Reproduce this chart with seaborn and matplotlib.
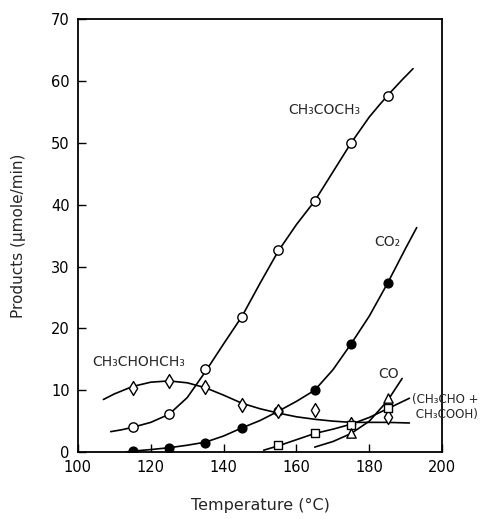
import matplotlib
matplotlib.use("Agg")
import matplotlib.pyplot as plt
import seaborn as sns
import pandas as pd

# measured points
temp_pts = [115, 125, 135, 145, 155, 165, 175, 185]
acetone_pts = [4.0, 6.1, 13.4, 21.9, 32.7, 40.6, 50.0, 57.6]
co2_pts = [0.2, 0.6, 1.5, 3.9, 6.6, 10.0, 17.5, 27.3]
ipa_pts = [10.3, 11.5, 10.6, 7.6, 6.6, 6.8, 4.5, 5.7]
ald_temp = [155, 165, 175, 185]
ald_pts = [1.2, 3.0, 4.4, 7.2]
co_temp = [175, 185]
co_pts = [3.0, 8.8]

# hand-drawn curves
acetone_curve_T = [109, 112, 115, 120, 125, 130, 135, 140, 145, 150, 155, 160, 165, 170, 175, 180, 183, 186, 189, 192]
acetone_curve_v = [3.3, 3.6, 4.0, 4.8, 6.1, 8.8, 13.0, 17.5, 21.9, 27.3, 32.5, 36.8, 40.6, 45.3, 50.0, 54.2, 56.3, 58.3, 60.2, 62.0]
co2_curve_T = [113, 115, 120, 125, 130, 135, 140, 145, 150, 155, 160, 165, 170, 175, 180, 185, 190, 193]
co2_curve_v = [0.0, 0.15, 0.4, 0.7, 1.1, 1.6, 2.6, 3.9, 5.1, 6.6, 8.2, 10.0, 13.3, 17.5, 22.0, 27.3, 33.0, 36.3]
ipa_curve_T = [107, 110, 115, 120, 125, 130, 135, 140, 145, 150, 155, 160, 165, 170, 175, 180, 185, 191]
ipa_curve_v = [8.5, 9.4, 10.6, 11.3, 11.5, 11.2, 10.4, 9.2, 7.9, 7.0, 6.3, 5.7, 5.3, 5.0, 4.8, 4.8, 4.8, 4.7]
ald_curve_T = [151, 155, 160, 165, 170, 175, 180, 185, 191]
ald_curve_v = [0.3, 1.0, 2.0, 3.0, 3.7, 4.5, 5.6, 7.0, 8.7]
co_curve_T = [165, 170, 175, 180, 185, 189]
co_curve_v = [0.8, 1.7, 3.0, 5.0, 8.3, 11.9]

x_ticks = [100, 120, 140, 160, 180, 200]
y_ticks = [0, 10, 20, 30, 40, 50, 60, 70]

sns.set_theme(style="ticks")
plt.rcParams['font.family'] = ['DejaVu Sans']

fig = plt.figure(figsize=(4.87, 5.19), dpi=100)
ax = fig.add_axes([0.160, 0.129, 0.748, 0.834])

lw = 1.2
curves = [
    (acetone_curve_T, acetone_curve_v),
    (co2_curve_T, co2_curve_v),
    (ipa_curve_T, ipa_curve_v),
    (ald_curve_T, ald_curve_v),
    (co_curve_T, co_curve_v),
]
for cT, cv in curves:
    sns.lineplot(x=cT, y=cv, ax=ax, color="black", linewidth=lw, sort=False, estimator=None)

mk = dict(edgecolor="black", linewidth=1.0, zorder=5, ax=ax, legend=False)
sns.scatterplot(x=temp_pts, y=acetone_pts, marker="o", s=45, color="white", **mk)
sns.scatterplot(x=temp_pts, y=co2_pts, marker="o", s=40, color="black", **mk)
sns.scatterplot(x=temp_pts, y=ipa_pts, marker="d", s=50, color="white", **mk)
sns.scatterplot(x=ald_temp, y=ald_pts, marker="s", s=35, color="white", **mk)
sns.scatterplot(x=co_temp, y=co_pts, marker="^", s=45, color="white", **mk)

fs = 10
ax.text(167.6, 55.3, "CH₃COCH₃", ha="center", va="center", fontsize=fs)
ax.text(185, 33.9, "CO₂", ha="center", va="center", fontsize=fs)
ax.text(116.8, 14.5, "CH₃CHOHCH₃", ha="center", va="center", fontsize=fs)
ax.text(185.3, 12.7, "CO", ha="center", va="center", fontsize=fs)
ax.text(191.8, 7.3, "(CH₃CHO +\n CH₃COOH)", ha="left", va="center", fontsize=8.6,
        linespacing=1.15, clip_on=False)

ax.set_xlim(100, 200)
ax.set_ylim(0, 70)
ax.set_xticks(x_ticks)
ax.set_yticks(y_ticks)
ax.tick_params(direction="in", length=6, width=1.0, labelsize=10.5, colors="black", pad=6)
for s in ax.spines.values():
    s.set_linewidth(1.3)
    s.set_color("black")
ax.set_xlabel("Temperature (°C)", fontsize=11.5, labelpad=16)
ax.set_ylabel("Products (μmole/min)", fontsize=11, labelpad=18)

fig.savefig("out.png", dpi=100)
